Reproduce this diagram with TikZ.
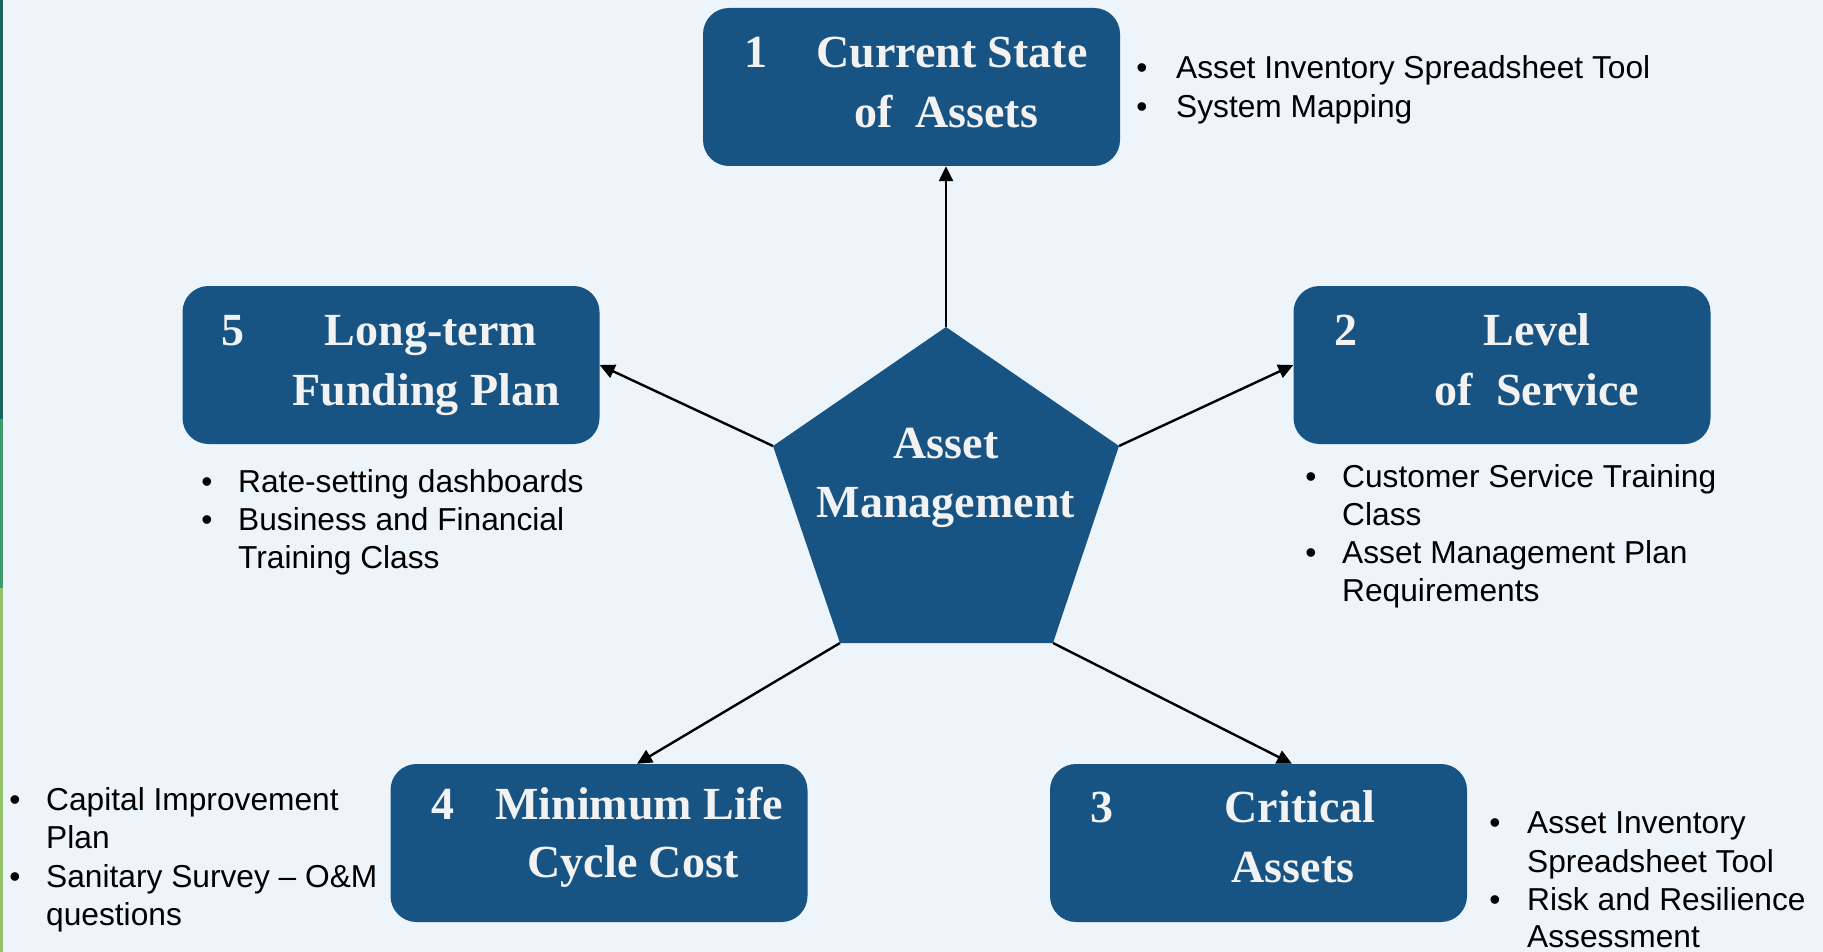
\documentclass[tikz,border=0pt]{standalone}
\usepackage{fontspec}
\setmainfont{Liberation Serif}
\newfontfamily\sansf{Liberation Sans}
\usetikzlibrary{arrows.meta}
\definecolor{bg}{HTML}{EDF5FB}
\definecolor{boxblue}{HTML}{175383}
\definecolor{boxtxt}{HTML}{F2F2F2}
\definecolor{stripA}{HTML}{1D615E}
\definecolor{stripB}{HTML}{3F9A6C}
\definecolor{stripC}{HTML}{94C36F}
\begin{document}
\begin{tikzpicture}[x=1pt,y=-1pt,
  box/.style={fill=boxblue, rounded corners=26pt, minimum width=417pt, minimum height=158pt, inner sep=0pt, draw=none},
  ttl/.style={text=boxtxt, font=\fontsize{46}{56}\selectfont\bfseries, anchor=base, inner sep=0pt},
  itm/.style={font=\sansf\fontsize{31.7}{38}\selectfont, anchor=base west, inner sep=0pt, text=black},
  bul/.style={font=\sansf\fontsize{31.7}{38}\selectfont, anchor=base, inner sep=0pt, text=black},
  conn/.style={draw=black, line width=2.4pt, -{Triangle[length=15pt,width=14pt]}}
]
\useasboundingbox (0,0) rectangle (1823,952);
\fill[bg] (0,0) rectangle (1823,952);
\fill[stripA] (0,0) rectangle (3,419);
\fill[stripB] (0,419) rectangle (3,588);
\fill[stripC] (0,588) rectangle (3,952);

% boxes
\node[box] (b1) at (911.5,87) {};
\node[box] (b5) at (391,365) {};
\node[box] (b2) at (1502,365) {};
\node[box] (b4) at (599,843) {};
\node[box] (b3) at (1258.5,843) {};

% pentagon
\coordinate (p1) at (946,327);
\coordinate (p2) at (1119,446);
\coordinate (p3) at (1053,643);
\coordinate (p4) at (840,643);
\coordinate (p5) at (773,446);
\fill[boxblue] (p1) -- (p2) -- (p3) -- (p4) -- (p5) -- cycle;
\node[ttl] (am1) at (946,458) {Asset};
\node[ttl] (am2) at (946,517) {Management};

% box titles
\node[ttl] (n1) at (756,68) {1};
\node[ttl] (t1a) at (952,68) {Current State};
\node[ttl] (t1b) at (946,128) {of\ \ Assets};

\node[ttl] (n5) at (233,345) {5};
\node[ttl] (t5a) at (431,345) {Long-term};
\node[ttl] (t5b) at (426,405) {Funding Plan};

\node[ttl] (n2) at (1346,345) {2};
\node[ttl] (t2a) at (1537,345) {Level};
\node[ttl] (t2b) at (1537,405) {of\ \ Service};

\node[ttl] (n4) at (443,819) {4};
\node[ttl] (t4a) at (639,819) {Minimum Life};
\node[ttl] (t4b) at (633,877) {Cycle Cost};

\node[ttl] (n3) at (1102,822) {3};
\node[ttl] (t3a) at (1300,822) {Critical};
\node[ttl] (t3b) at (1293,882) {Assets};

% connectors
\draw[conn] (p1) -- ([xshift=34.5pt]b1.south);
\draw[conn] (p5) -- (b5.east);
\draw[conn] (p2) -- (b2.west);
\draw[conn] (p4) -- ([xshift=38pt]b4.north);
\draw[conn] (p3) -- ([xshift=33.5pt]b3.north);

% list 1
\node[bul] (u1a) at (1142,79) {•};
\node[itm] (l1a) at (1176,79) {Asset Inventory Spreadsheet Tool};
\node[bul] (u1b) at (1142,118) {•};
\node[itm] (l1b) at (1176,118) {System Mapping};

% list 5
\node[bul] (u5a) at (207,492) {•};
\node[itm] (l5a) at (238,492) {Rate-setting dashboards};
\node[bul] (u5b) at (207,530) {•};
\node[itm] (l5b) at (238,530) {Business and Financial};
\node[itm] (l5c) at (238,568) {Training Class};

% list 2
\node[bul] (u2a) at (1311,487) {•};
\node[itm] (l2a) at (1342,487) {Customer Service Training};
\node[itm] (l2b) at (1342,525) {Class};
\node[bul] (u2c) at (1311,563) {•};
\node[itm] (l2c) at (1342,563) {Asset Management Plan};
\node[itm] (l2d) at (1342,601) {Requirements};

% list 4
\node[bul] (u4a) at (15,810) {•};
\node[itm] (l4a) at (46,810) {Capital Improvement};
\node[itm] (l4b) at (46,848) {Plan};
\node[bul] (u4c) at (15,887) {•};
\node[itm] (l4c) at (46,887) {Sanitary Survey – O\&M};
\node[itm] (l4d) at (46,925) {questions};

% list 3
\node[bul] (u3a) at (1495,833) {•};
\node[itm] (l3a) at (1527,833) {Asset Inventory};
\node[itm] (l3b) at (1527,872) {Spreadsheet Tool};
\node[bul] (u3c) at (1495,910) {•};
\node[itm] (l3c) at (1527,910) {Risk and Resilience};
\node[itm] (l3d) at (1527,947) {Assessment};
\end{tikzpicture}
\end{document}
